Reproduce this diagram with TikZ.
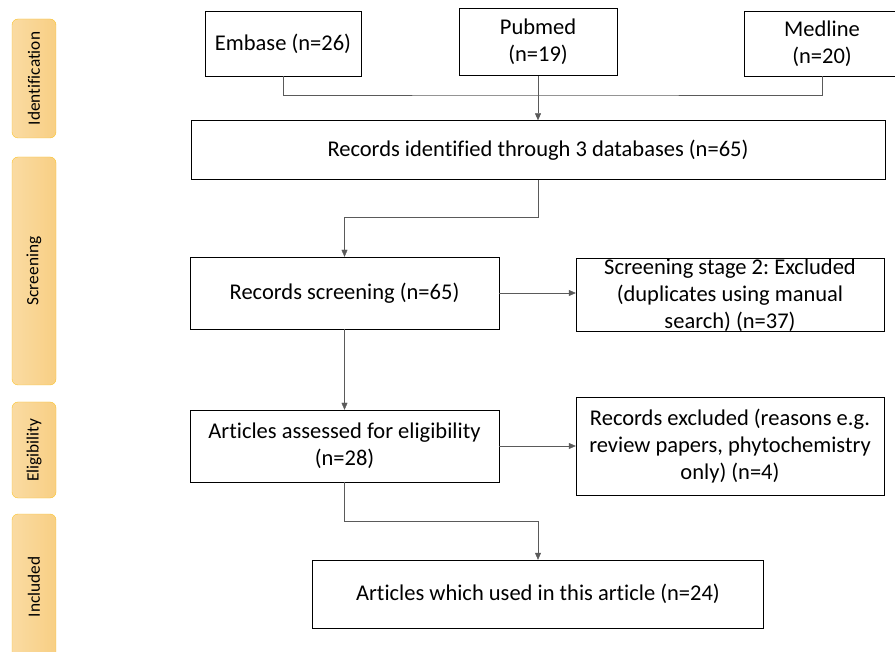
\documentclass[tikz,border=0pt]{standalone}
\usepackage{fontspec}
\setmainfont{Carlito}[Ligatures=NoCommon]
\usepackage{xcolor}
\usepackage{tikz}
\usetikzlibrary{positioning}
\usetikzlibrary{arrows.meta}
\frenchspacing
\definecolor{stageline}{RGB}{250,195,40}
\definecolor{stageleft}{RGB}{250,219,162}
\definecolor{stageright}{RGB}{248,207,132}
\definecolor{linkgray}{RGB}{90,90,90}
\tikzset {
  % flow boxes
  main/.style = {draw, rectangle, thin, align=center, inner sep=0pt,
    font=\fontsize{22.5}{27}\selectfont},
  % rotated stage labels on the left
  stage/.style = {draw=stageline, left color=stageleft, right color=stageright,
    rounded corners=6pt, rotate=90, minimum height=44pt, inner sep=0pt,
    font=\fontsize{17.3}{20}\selectfont},
  % connectors
  link/.style = {draw=linkgray, thin},
  arr/.style = {link, -{Triangle[length=7pt,width=6pt]}},
}
\begin{document}
\begin{tikzpicture}[x=1pt, y=-1pt]
      \useasboundingbox (0,0) rectangle (895,652);

      % stages
      \node[stage, minimum width=119pt] (ident) at (34,78.5) {Identification};
      \node[stage, minimum width=228pt] (screen) at (34,271) {Screening};
      \node[stage, minimum width=96pt] (elig) at (34,450) {Eligibility};
      \node[stage, minimum width=146pt] (incl) at (34,587) {Included};

      % databases
      \node[main, minimum width=156pt, minimum height=65pt] (embase) at (283,43.5) {Embase (n=26)};
      \node[main, minimum width=158pt, minimum height=67pt] (pubmed) at (538,42) {Pubmed\\(n=19)};
      \node[main, minimum width=156pt, minimum height=65pt] (medline) at (822,43.5) {Medline\\(n=20)};
      \coordinate (join) at (538,95);

      \node[main, minimum width=694pt, minimum height=59pt] (ident box) at (538,150) {Records identified through 3 databases (n=65)};

      \node[main, minimum width=309pt, minimum height=72pt] (screening) at (344.5,293) {Records screening (n=65)};
      \node[main, minimum width=308pt, minimum height=73pt] (dupl) at (730,295) {Screening stage 2: Excluded\\(duplicates using manual\\search) (n=37)};

      \node[main, minimum width=309pt, minimum height=72pt] (assessed) at (344.5,446) {Articles assessed for eligibility\\(n=28)};
      \node[main, minimum width=308pt, minimum height=98pt] (excluded) at (730,446) {Records excluded (reasons e.g.\\review papers, phytochemistry\\only) (n=4)};

      \node[main, minimum width=451pt, minimum height=68pt] (used) at (538,594) {Articles which used in this article (n=24)};

      \draw[link] (embase.south) |- (join) -| (medline.south);
      \draw[arr] (pubmed.south) -- (ident box.north);
      \draw[arr] (ident box.south) -- ++(0,38) -| (screening.north);
      \draw[arr] (screening.east) -- (dupl.west |- screening.east);
      \draw[arr] (screening.south) -- (assessed.north);
      \draw[arr] (assessed.east) -- (excluded.west);
      \draw[arr] (assessed.south) -- ++(0,39) -| (used.north);
    \end{tikzpicture}
\end{document}
